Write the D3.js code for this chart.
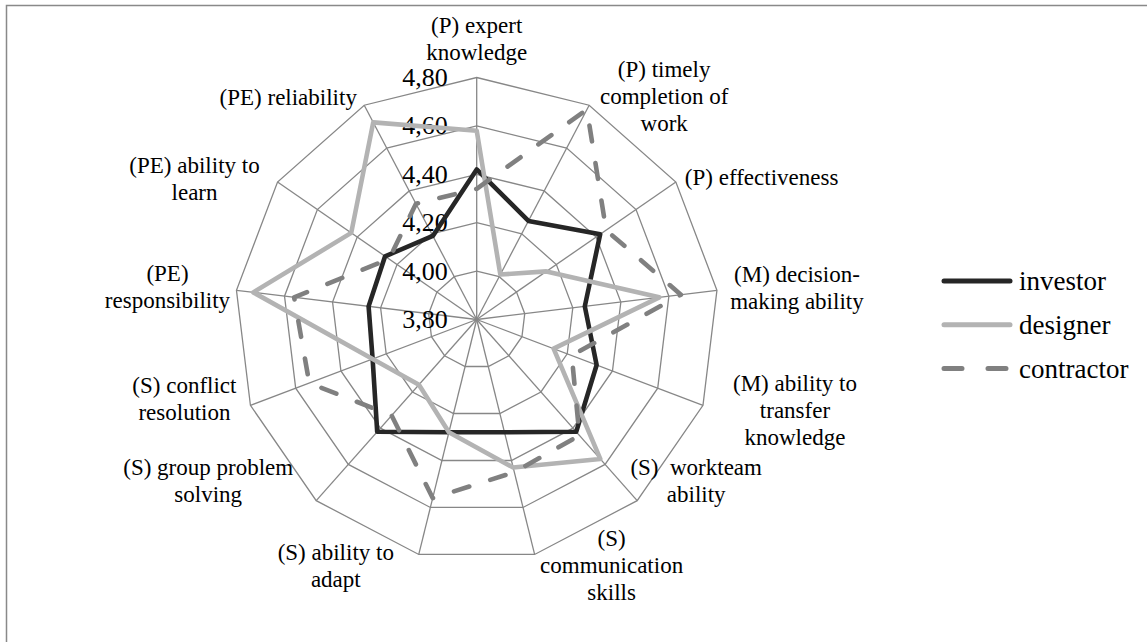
<!DOCTYPE html>
<html>
<head>
<meta charset="utf-8">
<script src="https://cdn.jsdelivr.net/npm/d3@7"></script>
<style>
  html, body { margin: 0; padding: 0; background: #fff; }
  svg { display: block; }
  text { font-family: "Liberation Serif", "Times New Roman", serif; fill: #000; }
</style>
</head>
<body>
<svg id="chart" width="1147" height="642"></svg>
<script>
// ---- data ----
const categories = [
  "(P) expert\nknowledge",
  "(P) timely\ncompletion of\nwork",
  "(P) effectiveness",
  "(M) decision-\nmaking ability",
  "(M) ability to\ntransfer\nknowledge",
  "(S)  workteam\nability",
  "(S)\ncommunication\nskills",
  "(S) ability to\nadapt",
  "(S) group problem\nsolving",
  "(S) conflict\nresolution",
  "(PE)\nresponsibility",
  "(PE) ability to\nlearn",
  "(PE) reliability"
];
const seriesNames = ["investor", "designer", "contractor"];
const investor   = [4.42, 4.26, 4.42, 4.25, 4.33, 4.42, 4.28, 4.28, 4.42, 4.26, 4.25, 4.26, 4.19];
const designer   = [4.58, 4.01, 4.15, 4.56, 4.14, 4.57, 4.43, 4.28, 4.16, 4.26, 4.73, 4.43, 4.72];
const contractor = [4.34, 4.78, 4.45, 4.65, 4.22, 4.44, 4.45, 4.56, 4.33, 4.54, 4.56, 4.24, 4.34];
const tickValues = [3.8, 4.0, 4.2, 4.4, 4.6, 4.8];
const tickLabels = ["3,80", "4,00", "4,20", "4,40", "4,60", "4,80"];

// ---- layout (not data) ----
const W = 1147, H = 642;
const cx = 476.7, cy = 319.5, R = 242;
// label block centre offsets from each outer vertex, and text anchor
const labelLayout = [
  {dx: 0,    dy: -39, a: "middle"},
  {dx: 75,   dy: -9,  a: "middle"},
  {dx: 9,    dy: -5,  a: "start"},
  {dx: 80,   dy: -3,  a: "middle"},
  {dx: 92,   dy: 5,   a: "middle"},
  {dx: 59,   dy: -20, a: "middle"},
  {dx: 77,   dy: 11,  a: "middle"},
  {dx: -83,  dy: 11,  a: "middle"},
  {dx: -108, dy: -20, a: "middle"},
  {dx: -66,  dy: -7,  a: "middle"},
  {dx: -69,  dy: -4,  a: "middle"},
  {dx: -83,  dy: -4,  a: "middle"},
  {dx: -76,  dy: -8,  a: "middle"}
];
const styles = {
  investor:   {color: "#262626", width: 4.6, dash: null},
  designer:   {color: "#b3b3b3", width: 4.6, dash: null},
  contractor: {color: "#808080", width: 4.6, dash: "16 22"}
};

const svg = d3.select("#chart");
svg.append("rect").attr("width", W).attr("height", H).attr("fill", "#fff");
// outer frame
svg.append("rect").attr("x", 6.5).attr("y", 5.5).attr("width", 1300).attr("height", 800)
  .attr("fill", "none").attr("stroke", "#898989").attr("stroke-width", 1.5);

const n = categories.length;
const step = 2 * Math.PI / n;
const r = d3.scaleLinear().domain([3.8, 4.8]).range([0, R]);
const angle = i => i * step;
const px = (i, v) => cx + r(v) * Math.sin(angle(i));
const py = (i, v) => cy - r(v) * Math.cos(angle(i));

const g = svg.append("g");
// rings
const ringLine = d3.lineRadial().angle((d, i) => angle(i)).radius(d => r(d)).curve(d3.curveLinearClosed);
const grid = g.append("g").attr("transform", `translate(${cx},${cy})`);
tickValues.filter(t => t > 3.8).forEach(t => {
  grid.append("path").attr("d", ringLine(d3.range(n).map(() => t)))
    .attr("fill", "none").attr("stroke", "#878787").attr("stroke-width", 1.3);
});
// spokes
d3.range(n).forEach(i => {
  g.append("line").attr("x1", cx).attr("y1", cy)
    .attr("x2", px(i, 4.8)).attr("y2", py(i, 4.8))
    .attr("stroke", "#878787").attr("stroke-width", 1.3);
});

// tick labels on the top axis
g.selectAll("text.tick").data(tickValues).enter().append("text")
  .attr("class", "tick")
  .attr("x", cx - 29).attr("y", d => cy - r(d))
  .attr("text-anchor", "end").attr("dominant-baseline", "central")
  .attr("font-size", 26)
  .text((d, i) => tickLabels[i]);

// series
const seriesData = {investor, designer, contractor};
const sg = g.append("g").attr("transform", `translate(${cx},${cy})`);
seriesNames.forEach(name => {
  const st = styles[name];
  sg.append("path").attr("d", ringLine(seriesData[name]))
    .attr("fill", "none").attr("stroke", st.color).attr("stroke-width", st.width)
    .attr("stroke-linejoin", "round")
    .attr("stroke-linecap", st.dash ? "round" : "butt")
    .attr("stroke-dasharray", st.dash);
});

// category labels
const fs = 23, lh = 27;
categories.forEach((c, i) => {
  const lines = c.split("\n");
  const L = labelLayout[i];
  const x = px(i, 4.8) + L.dx;
  const yc = py(i, 4.8) + L.dy;
  const y0 = yc - (lines.length - 1) * lh / 2;
  const t = g.append("text").attr("text-anchor", L.a).attr("font-size", fs)
    .attr("dominant-baseline", "central").style("white-space", "pre");
  lines.forEach((ln, k) => {
    t.append("tspan").attr("x", x).attr("y", y0 + k * lh).text(ln);
  });
});

// legend
const lg = svg.append("g");
seriesNames.forEach((name, k) => {
  const st = styles[name];
  const y = 281 + k * 43.8;
  lg.append("line").attr("x1", 944).attr("x2", 1010).attr("y1", y).attr("y2", y)
    .attr("stroke", st.color).attr("stroke-width", st.width + 0.4)
    .attr("stroke-linecap", "round")
    .attr("stroke-dasharray", st.dash ? "18 26" : null);
  lg.append("text").attr("x", 1019).attr("y", y).attr("dominant-baseline", "central")
    .attr("font-size", 27).text(name);
});
</script>
</body>
</html>
